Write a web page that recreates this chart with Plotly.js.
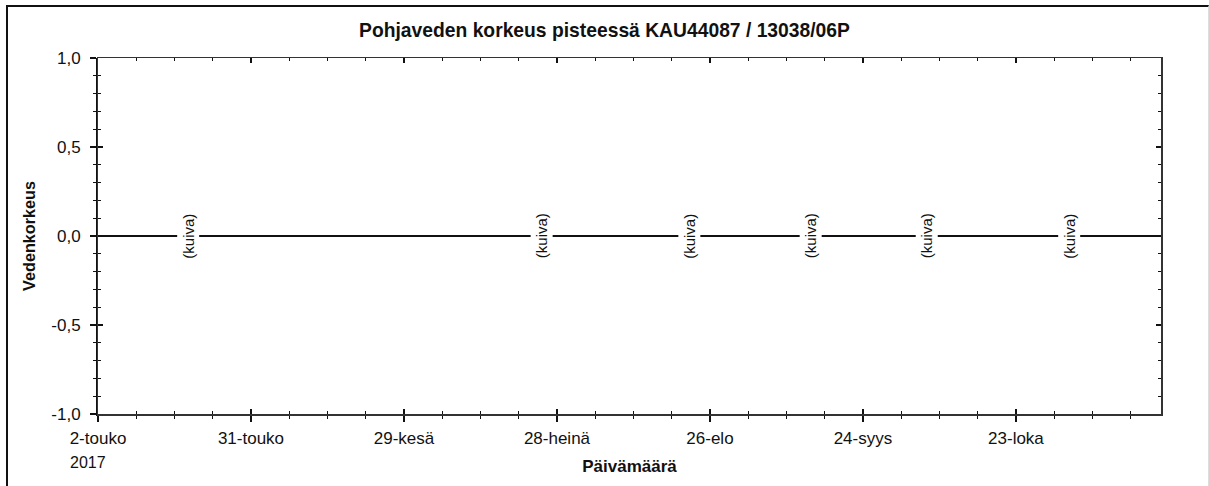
<!DOCTYPE html>
<html>
<head>
<meta charset="utf-8">
<script src="https://cdn.plot.ly/plotly-3.0.1.min.js"></script>
<style>
  body { margin: 0; background: #fff; }
  #chart { width: 1209px; height: 486px; }
  #frame {
    position: absolute; left: 6px; top: 5px; width: 1200px; height: 500px;
    border-left: 2px solid #111; border-top: 2px solid #111; border-right: 1px solid #ddd;
    pointer-events: none;
  }
</style>
</head>
<body>
<div id="chart"></div>
<div id="frame"></div>
<script>
// dry observations ("kuiva") - well was dry, plotted on the zero line
var kuivaDates = ['2017-05-19', '2017-07-25', '2017-08-22', '2017-09-14', '2017-10-06', '2017-11-02'];
var kuivaLevel = [0, 0, 0, 0, 0, 0];
var kuivaText = '(kuiva)';

var xTickVals = ['2017-05-02', '2017-05-31', '2017-06-29', '2017-07-28', '2017-08-26', '2017-09-24', '2017-10-23'];
var xTickText = ['2-touko', '31-touko', '29-kesä', '28-heinä', '26-elo', '24-syys', '23-loka'];
var yTickVals = [-1, -0.5, 0, 0.5, 1];
var yTickText = ['-1,0', '-0,5', '0,0', '0,5', '1,0'];
var xRange = ['2017-05-02', '2017-11-19 12:00'];
var yRange = [-1, 1];

var font = 'Liberation Sans, Arial, sans-serif';
var DAY = 86400000;

var data = [
  {
    x: kuivaDates, y: kuivaLevel, type: 'scatter', mode: 'markers',
    marker: {opacity: 0}, hoverinfo: 'skip', showlegend: false
  },
  {
    x: kuivaDates, y: kuivaLevel, type: 'scatter', mode: 'markers',
    xaxis: 'x2', yaxis: 'y2',
    marker: {opacity: 0}, hoverinfo: 'skip', showlegend: false
  }
];

var annotations = kuivaDates.map(function(d, i) {
  return {
    x: d, y: kuivaLevel[i], xref: 'x', yref: 'y',
    text: kuivaText, textangle: -90, showarrow: false,
    bgcolor: '#fff', borderpad: 2,
    font: {family: font, size: 15, color: '#111'}
  };
});
annotations.push({
  x: xTickVals[0], y: -0.135, xref: 'x', yref: 'paper',
  xanchor: 'left', yanchor: 'middle', xshift: -30,
  text: '2017', showarrow: false,
  font: {family: font, size: 16, color: '#111'}
});

var layout = {
  width: 1209, height: 486,
  margin: {l: 98, r: 48, t: 58, b: 72},
  paper_bgcolor: '#fff', plot_bgcolor: '#fff',
  font: {family: font, size: 17, color: '#111'},
  title: {
    text: '<b>Pohjaveden korkeus pisteessä KAU44087 / 13038/06P</b>',
    font: {family: font, size: 19.3, color: '#111'},
    xref: 'container', x: 0.5, yref: 'container', y: 1 - 30 / 486, yanchor: 'middle'
  },
  xaxis: {
    type: 'date', range: xRange,
    tickmode: 'array', tickvals: xTickVals, ticktext: xTickText,
    ticks: 'outside', ticklen: 6, tickwidth: 1.5, tickcolor: '#111',
    ticklabelstandoff: 2,
    minor: {tick0: '2017-05-02', dtick: 7.25 * DAY, ticks: 'outside', ticklen: 3, tickwidth: 1.2, tickcolor: '#111', showgrid: false},
    showline: true, linewidth: 2, linecolor: '#111', mirror: false,
    showgrid: false, zeroline: false,
    tickfont: {family: font, size: 17, color: '#111'},
    title: {text: '<b>Päivämäärä</b>', font: {family: font, size: 17, color: '#111'}, standoff: 13}
  },
  yaxis: {
    range: yRange,
    tickmode: 'array', tickvals: yTickVals, ticktext: yTickText,
    ticks: 'outside', ticklen: 6, tickwidth: 1.5, tickcolor: '#111',
    ticklabelstandoff: 6,
    minor: {dtick: 0.1, ticks: 'outside', ticklen: 3, tickwidth: 1.2, tickcolor: '#111', showgrid: false},
    showline: true, linewidth: 2, linecolor: '#111', mirror: false,
    showgrid: false, zeroline: true, zerolinecolor: '#111', zerolinewidth: 1.2,
    tickfont: {family: font, size: 17, color: '#111'},
    title: {text: '<b>Vedenkorkeus</b>', font: {family: font, size: 16.2, color: '#111'}, standoff: 12}
  },
  xaxis2: {
    type: 'date', range: xRange, overlaying: 'x', anchor: 'y2',
    tickmode: 'array', tickvals: xTickVals, showticklabels: false,
    ticks: 'inside', ticklen: 5, tickwidth: 1.5, tickcolor: '#111',
    minor: {tick0: '2017-05-02', dtick: 7.25 * DAY, ticks: 'inside', ticklen: 3, tickwidth: 1.2, tickcolor: '#111', showgrid: false},
    showline: true, linewidth: 1.5, linecolor: '#333', mirror: 'ticks',
    showgrid: false, zeroline: false
  },
  yaxis2: {
    range: yRange, overlaying: 'y', anchor: 'x2',
    tickmode: 'array', tickvals: yTickVals, showticklabels: false,
    ticks: 'inside', ticklen: 5, tickwidth: 1.5, tickcolor: '#111',
    minor: {dtick: 0.1, ticks: 'inside', ticklen: 3, tickwidth: 1.2, tickcolor: '#111', showgrid: false},
    showline: true, linewidth: 1.5, linecolor: '#333', mirror: 'ticks',
    showgrid: false, zeroline: false
  },
  annotations: annotations,
  showlegend: false
};

Plotly.newPlot('chart', data, layout, {staticPlot: true, displayModeBar: false});
</script>
</body>
</html>
